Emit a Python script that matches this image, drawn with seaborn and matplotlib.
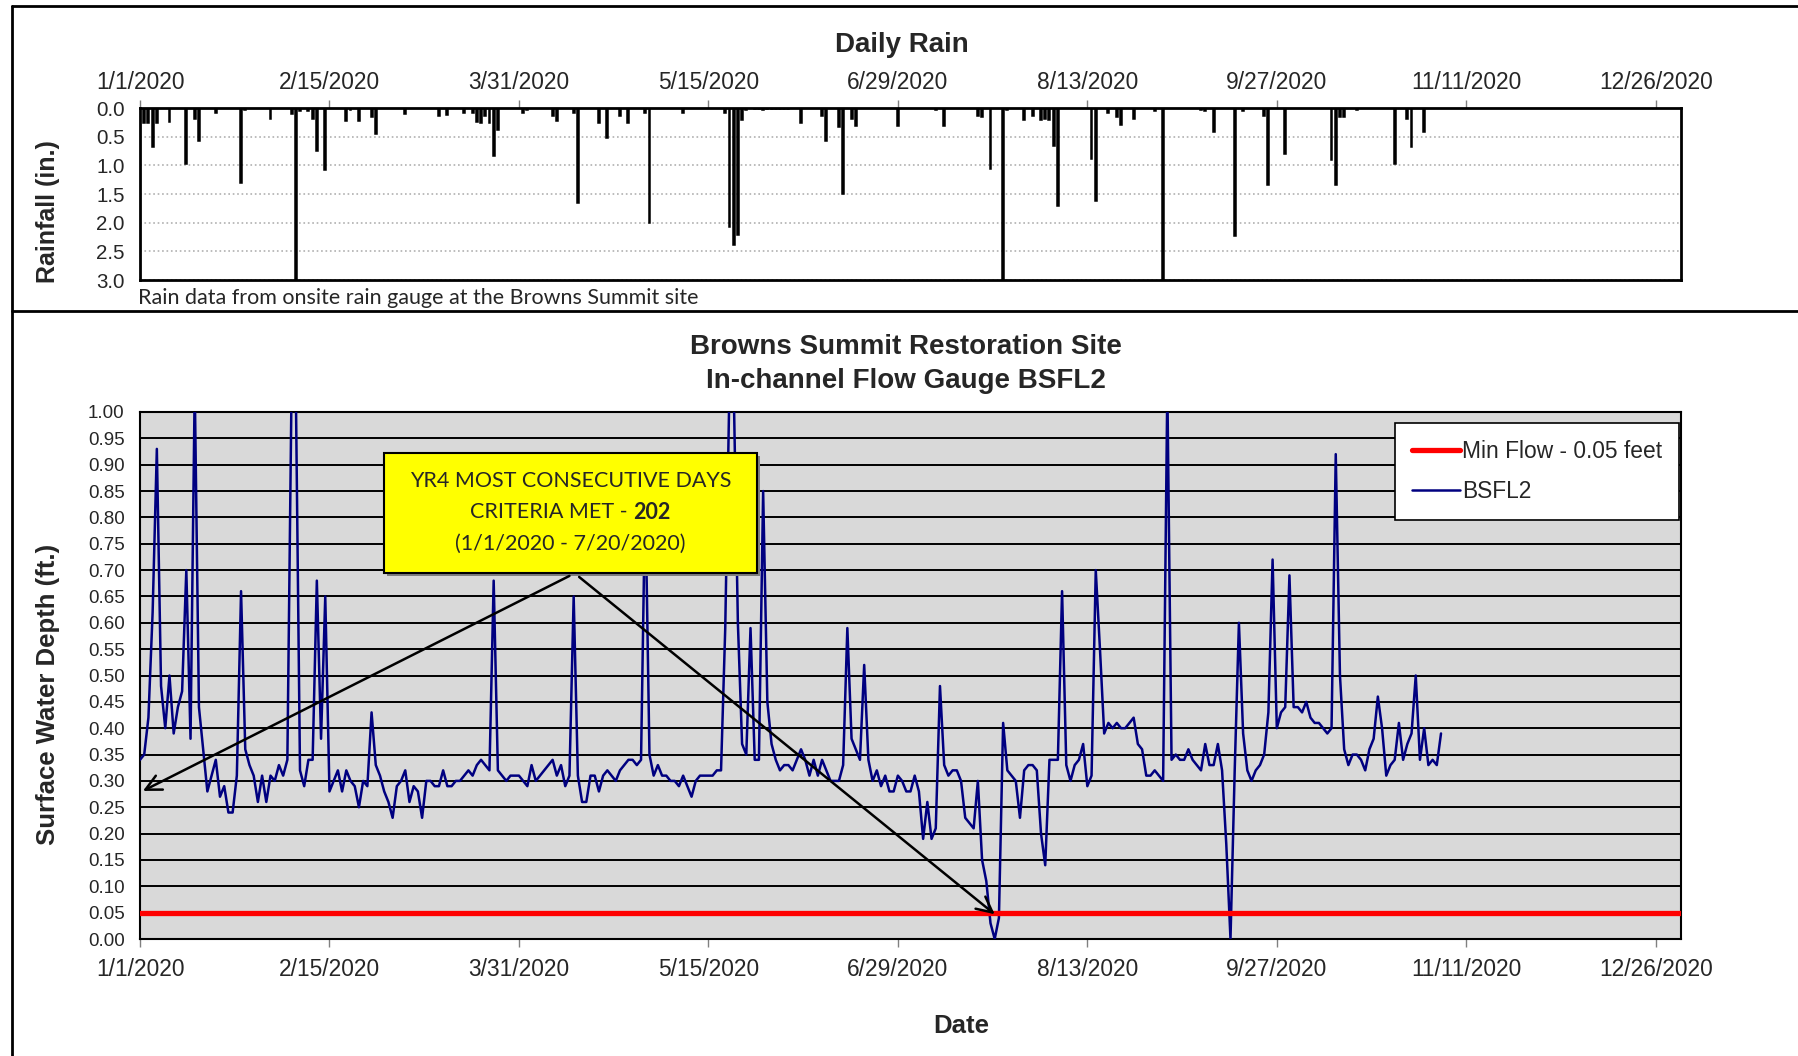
import numpy as np
import pandas as pd
import matplotlib
matplotlib.use("Agg")
import matplotlib.pyplot as plt
import matplotlib.dates as mdates
import matplotlib.ticker as mticker
from matplotlib.lines import Line2D
from matplotlib.patches import Rectangle
from matplotlib import font_manager
import seaborn as sns

# ---- data -------------------------------------------------------------
start = pd.Timestamp("2020-01-01")
end = pd.Timestamp("2021-01-01")

# daily rain (day offset from 1/1/2020, inches)
rain_day = [1, 2, 3, 4, 7, 11, 13, 14, 18, 24, 25, 31, 36, 37, 38, 40, 41, 42, 44,
            49, 50, 52, 55, 56, 63, 71, 73, 77, 79, 80, 81, 82, 83, 84, 85, 91, 92,
            98, 99, 103, 104, 109, 111, 114, 116, 120, 121, 129, 139, 140, 141, 142,
            143, 144, 146, 147, 148, 149, 150, 151, 152, 153, 154, 157, 162, 163,
            166, 167, 169, 170, 180, 189, 191, 199, 200, 202, 205, 206, 210, 212,
            214, 215, 216, 217, 218, 226, 227, 230, 232, 233, 236, 241, 243, 252,
            253, 255, 260, 262, 267, 268, 272, 283, 284, 285, 286, 289, 298, 301,
            302, 305]
rain_in = [0.27, 0.27, 0.68, 0.27, 0.25, 0.98, 0.19, 0.57, 0.08, 1.30, 0.03, 0.19,
           0.10, 3.10, 0.05, 0.05, 0.19, 0.75, 1.08, 0.22, 0.03, 0.23, 0.15, 0.46,
           0.10, 0.14, 0.13, 0.09, 0.09, 0.25, 0.27, 0.14, 0.27, 0.83, 0.38, 0.09,
           0.03, 0.14, 0.22, 0.08, 1.66, 0.26, 0.52, 0.14, 0.27, 0.09, 2.00, 0.08,
           0.09, 2.07, 2.39, 2.21, 0.21, 0.03, 0.02, 0.02, 0.03, 0.02, 0.02, 0.02,
           0.02, 0.02, 0.02, 0.27, 0.14, 0.58, 0.34, 1.50, 0.19, 0.32, 0.32, 0.03,
           0.32, 0.14, 0.16, 1.06, 3.10, 0.03, 0.21, 0.14, 0.21, 0.20, 0.21, 0.67,
           1.71, 0.89, 1.63, 0.09, 0.16, 0.29, 0.19, 0.06, 3.10, 0.03, 0.05, 0.41,
           2.23, 0.05, 0.14, 1.34, 0.80, 0.91, 1.34, 0.16, 0.16, 0.03, 0.97, 0.19,
           0.68, 0.41]

# daily surface water depth at BSFL2 (ft), starting 1/1/2020
depth_ft = [
    0.34, 0.35, 0.42, 0.62, 0.93, 0.48, 0.40, 0.50, 0.39, 0.44,
    0.47, 0.70, 0.38, 1.05, 0.44, 0.36, 0.28, 0.31, 0.34, 0.27,
    0.29, 0.24, 0.24, 0.31, 0.66, 0.36, 0.33, 0.31, 0.26, 0.31,
    0.26, 0.31, 0.30, 0.33, 0.31, 0.34, 1.05, 1.05, 0.32, 0.29,
    0.34, 0.34, 0.68, 0.38, 0.65, 0.28, 0.30, 0.32, 0.28, 0.32,
    0.30, 0.29, 0.25, 0.30, 0.29, 0.43, 0.33, 0.31, 0.28, 0.26,
    0.23, 0.29, 0.30, 0.32, 0.26, 0.29, 0.28, 0.23, 0.30, 0.30,
    0.29, 0.29, 0.32, 0.29, 0.29, 0.30, 0.30, 0.31, 0.32, 0.31,
    0.33, 0.34, 0.33, 0.32, 0.68, 0.32, 0.31, 0.30, 0.31, 0.31,
    0.31, 0.30, 0.29, 0.33, 0.30, 0.31, 0.32, 0.33, 0.34, 0.31,
    0.33, 0.29, 0.31, 0.65, 0.31, 0.26, 0.26, 0.31, 0.31, 0.28,
    0.31, 0.32, 0.31, 0.30, 0.32, 0.33, 0.34, 0.34, 0.33, 0.34,
    0.85, 0.35, 0.31, 0.33, 0.31, 0.31, 0.30, 0.30, 0.29, 0.31,
    0.29, 0.27, 0.30, 0.31, 0.31, 0.31, 0.31, 0.32, 0.32, 0.59,
    1.05, 1.05, 0.60, 0.37, 0.35, 0.59, 0.34, 0.34, 0.85, 0.45,
    0.37, 0.34, 0.32, 0.33, 0.33, 0.32, 0.34, 0.36, 0.34, 0.31,
    0.34, 0.31, 0.34, 0.32, 0.30, 0.30, 0.30, 0.33, 0.59, 0.38,
    0.36, 0.34, 0.52, 0.34, 0.30, 0.32, 0.29, 0.31, 0.28, 0.28,
    0.31, 0.30, 0.28, 0.28, 0.31, 0.28, 0.19, 0.26, 0.19, 0.21,
    0.48, 0.33, 0.31, 0.32, 0.32, 0.30, 0.23, 0.22, 0.21, 0.30,
    0.15, 0.11, 0.03, 0.00, 0.04, 0.41, 0.32, 0.31, 0.30, 0.23,
    0.32, 0.33, 0.33, 0.32, 0.20, 0.14, 0.34, 0.34, 0.34, 0.66,
    0.33, 0.30, 0.33, 0.34, 0.37, 0.29, 0.31, 0.70, 0.55, 0.39,
    0.41, 0.40, 0.41, 0.40, 0.40, 0.41, 0.42, 0.37, 0.36, 0.31,
    0.31, 0.32, 0.31, 0.30, 1.05, 0.34, 0.35, 0.34, 0.34, 0.36,
    0.34, 0.33, 0.32, 0.37, 0.33, 0.33, 0.37, 0.32, 0.18, 0.00,
    0.32, 0.60, 0.39, 0.32, 0.30, 0.32, 0.33, 0.35, 0.43, 0.72,
    0.40, 0.43, 0.44, 0.69, 0.44, 0.44, 0.43, 0.45, 0.42, 0.41,
    0.41, 0.40, 0.39, 0.40, 0.92, 0.50, 0.36, 0.33, 0.35, 0.35,
    0.34, 0.32, 0.36, 0.38, 0.46, 0.40, 0.31, 0.33, 0.34, 0.41,
    0.34, 0.37, 0.39, 0.50, 0.34, 0.40, 0.33, 0.34, 0.33, 0.39,
]
min_flow = 0.05
tick_dates = pd.date_range(start, periods=9, freq="45D")

rain = pd.DataFrame({"date": start + pd.to_timedelta(rain_day, unit="D"), "rain": rain_in})
flow = pd.DataFrame({"date": pd.date_range(start, periods=len(depth_ft), freq="D"),
                     "depth": depth_ft})
minline = pd.DataFrame({"date": [start, end], "depth": [min_flow, min_flow]})

# ---- style --------------------------------------------------------------
sns.set_style("white")
names = {f.name for f in font_manager.fontManager.ttflist}
if "Liberation Sans Narrow" in names:
    NARROW, k = "Liberation Sans Narrow", 1.0
else:
    NARROW, k = "Liberation Sans", 0.82
plt.rcParams["font.family"] = [NARROW, "DejaVu Sans"]
BOXFONT = ["Lato", "DejaVu Sans"]
BOLD = ["Liberation Sans", "DejaVu Sans"]

W, H = 1798, 1056
fig = plt.figure(figsize=(W / 100, H / 100), dpi=100)

def date_fmt(x, pos):
    d = mdates.num2date(x)
    return f"{d.month}/{d.day}/{d.year}"

# ---- rain panel ---------------------------------------------------------
ax1 = fig.add_axes([140 / W, 1 - 280 / H, 1541 / W, 172 / H])
ax1.bar(rain["date"], rain["rain"], width=0.45, color="black", edgecolor="black",
        linewidth=1.1, zorder=3)
ax1.set_xlim(start, end)
ax1.set_ylim(3.0, 0.0)
ax1.set_yticks(np.arange(0, 3.01, 0.5))
ax1.yaxis.set_major_formatter(mticker.FormatStrFormatter("%.1f"))
ax1.set_xticks(tick_dates)
ax1.xaxis.set_major_formatter(mticker.FuncFormatter(date_fmt))
ax1.xaxis.tick_top()
ax1.tick_params(axis="x", which="both", direction="out", length=6, width=1,
                color="#808080", pad=4, labelsize=20 * k)
ax1.tick_params(axis="y", length=0, pad=11, labelsize=18 * k)
ax1.yaxis.grid(True, color="#b0b0b0", linestyle=":", linewidth=1.2)
ax1.set_axisbelow(True)
for s in ax1.spines.values():
    s.set_color("black")
    s.set_linewidth(2)
ax1.set_xlabel("")
ax1.set_ylabel("")

# ---- flow panel -------------------------------------------------------------
ax2 = fig.add_axes([140 / W, 1 - 939 / H, 1541 / W, 527 / H])
ax2.set_facecolor("#d9d9d9")
sns.lineplot(data=flow, x="date", y="depth", ax=ax2, color="#000080",
             linewidth=1.8, label="BSFL2", zorder=3)
sns.lineplot(data=minline, x="date", y="depth", ax=ax2, color="red",
             linewidth=3.8, label="Min Flow - 0.05 feet", zorder=4)
ax2.set_xlim(start, end)
ax2.set_ylim(0, 1.0)
ax2.set_yticks(np.arange(0, 1.001, 0.05))
ax2.yaxis.set_major_formatter(mticker.FormatStrFormatter("%.2f"))
ax2.set_xticks(tick_dates)
ax2.xaxis.set_major_formatter(mticker.FuncFormatter(date_fmt))
ax2.tick_params(axis="x", direction="out", length=6, width=1, color="#808080",
                pad=8, labelsize=20 * k, bottom=True)
ax2.tick_params(axis="y", length=0, pad=11, labelsize=16.5 * k)
ax2.yaxis.grid(True, color="black", linewidth=1.4)
ax2.xaxis.grid(False)
ax2.set_axisbelow(True)
for s in ax2.spines.values():
    s.set_color("black")
    s.set_linewidth(1.5)
ax2.set_xlabel("")
ax2.set_ylabel("")

h, l = ax2.get_legend_handles_labels()
leg = ax2.legend(h[::-1], l[::-1], loc="upper right", bbox_to_anchor=(0.999, 0.98),
                 borderaxespad=0, frameon=True, fancybox=False, framealpha=1,
                 edgecolor="black", fontsize=20 * k, handlelength=2.1,
                 handletextpad=0.1, labelspacing=0.75, borderpad=0.75)
leg.get_frame().set_linewidth(1.2)

# yellow annotation box
ax2.add_patch(Rectangle((0.1603, 0.6895), 0.242, 0.2277, transform=ax2.transAxes,
                        facecolor="#7f7f7f", edgecolor="none", zorder=5))
ax2.add_patch(Rectangle((0.1583, 0.6945), 0.242, 0.2277, transform=ax2.transAxes,
                        facecolor="yellow", edgecolor="black", linewidth=1.5, zorder=6))
bx = 0.1583 + 0.242 / 2
ax2.text(bx, 0.870, "YR4 MOST CONSECUTIVE DAYS", transform=ax2.transAxes,
         ha="center", va="center", fontsize=15.5, family=BOXFONT, zorder=7)
ax2.text(bx, 0.750, "(1/1/2020 - 7/20/2020)", transform=ax2.transAxes,
         ha="center", va="center", fontsize=15.5, family=BOXFONT, zorder=7)
t1 = ax2.text(0, 0.810, "CRITERIA MET - ", transform=ax2.transAxes, ha="left",
              va="center", fontsize=15.5, family=BOXFONT, zorder=7)
t2 = ax2.text(0, 0.810, "202", transform=ax2.transAxes, ha="left", va="center",
              fontsize=15.5, family=BOXFONT, weight="bold", zorder=7)
r = fig.canvas.get_renderer()
w1 = t1.get_window_extent(r).width / ax2.bbox.width
w2 = t2.get_window_extent(r).width / ax2.bbox.width
t1.set_x(bx - (w1 + w2) / 2)
t2.set_x(bx - (w1 + w2) / 2 + w1)

arrow = dict(arrowstyle="->", color="black", lw=1.8, mutation_scale=28,
             shrinkA=0, shrinkB=0)
ax2.annotate("", xy=(start + pd.Timedelta(days=0.7), 0.281),
             xytext=(start + pd.Timedelta(days=102), 0.689), arrowprops=arrow, zorder=8)
ax2.annotate("", xy=(start + pd.Timedelta(days=203), 0.047),
             xytext=(start + pd.Timedelta(days=104.3), 0.687), arrowprops=arrow, zorder=8)

# ---- figure texts and frame ---------------------------------------------------
fig.text(902 / W, 1 - 45 / H, "Daily Rain", ha="center", va="center",
         fontsize=20, weight="bold", family=BOLD)
fig.text(906 / W, 1 - 347 / H, "Browns Summit Restoration Site", ha="center",
         va="center", fontsize=20, weight="bold", family=BOLD)
fig.text(906 / W, 1 - 381 / H, "In-channel Flow Gauge BSFL2", ha="center",
         va="center", fontsize=20, weight="bold", family=BOLD)
fig.text(48 / W, 1 - 212 / H, "Rainfall (in.)", rotation=90, ha="center",
         va="center", fontsize=18, weight="bold", family=BOLD)
fig.text(48 / W, 1 - 694 / H, "Surface Water Depth (ft.)", rotation=90,
         ha="center", va="center", fontsize=18.5, weight="bold", family=BOLD)
fig.text(961 / W, 1 - 1026 / H, "Date", ha="center", va="center", fontsize=18.5,
         weight="bold", family=BOLD)
fig.text(138 / W, 1 - 298 / H, "Rain data from onsite rain gauge at the Browns Summit site",
         ha="left", va="center", fontsize=15.5, family=BOXFONT)

for xs, ys in [([11.5 / W, 1], [1 - 6 / H] * 2), ([11.5 / W, 1], [1 - 311 / H] * 2),
               ([11.5 / W] * 2, [1 - 6 / H, 0])]:
    fig.add_artist(Line2D(xs, ys, transform=fig.transFigure, color="black", lw=2))

fig.savefig("out.png", dpi=100)
